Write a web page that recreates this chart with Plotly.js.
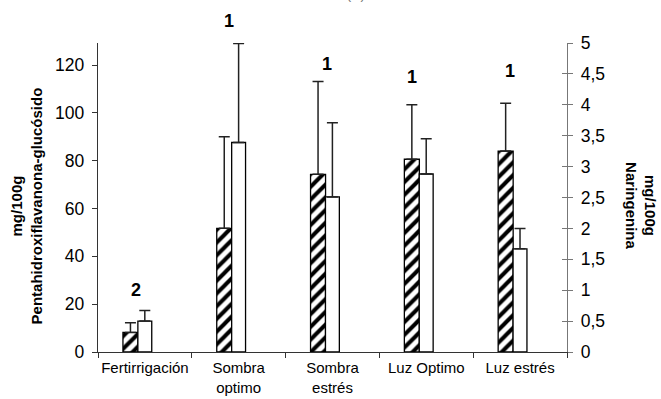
<!DOCTYPE html>
<html>
<head>
<meta charset="utf-8">
<script src="https://cdn.plot.ly/plotly-3.0.1.min.js"></script>
<style>
html,body{margin:0;padding:0;background:#fff;}
#chart{width:661px;height:399px;}
</style>
</head>
<body>
<div id="chart"></div>
<script>
// ---- data ----
const categories = ['Fertirrigación', 'Sombra<br>optimo', 'Sombra<br>estrés', 'Luz Optimo', 'Luz estrés'];
const pentaValues = [8.2, 51.7, 74.3, 80.6, 84.0];      // mg/100g Pentahidroxiflavanona-glucósido (left axis)
const pentaErrors = [4.0, 38.3, 38.8, 22.8, 20.0];
const naringValues = [0.50, 3.39, 2.51, 2.88, 1.67];    // mg/100g Naringenina (right axis)
const naringErrors = [0.17, 1.60, 1.20, 0.57, 0.33];
const sigLabels = ['2', '1', '1', '1', '1'];
const sigHeights = [26, 138.5, 120.5, 115, 117.5];      // in left-axis units
const titleText = 'Fruto (A)';

// ---- styling ----
const FONT = 'Liberation Sans, Arial, sans-serif';
const leftMax = 129.2;
const pxPerUnit = 309 / leftMax;
const labelShift = [-9, -9.5, -5.5, -14, -10.6];
const zeros = pentaValues.map(() => 0);

const traces = [
  {
    type: 'bar', x: categories, y: pentaValues, yaxis: 'y',
    width: 0.16, offset: -0.234,
    marker: {
      color: '#ffffff',
      line: {color: '#000000', width: 1.3},
      pattern: {shape: '/', fgcolor: '#000000', bgcolor: '#ffffff', size: 9, solidity: 0.45}
    },
    error_y: {type: 'data', symmetric: false, array: pentaErrors, arrayminus: zeros,
              color: '#222222', thickness: 1.5, width: 5.5},
    showlegend: false, hoverinfo: 'skip'
  },
  {
    type: 'bar', x: categories, y: naringValues, yaxis: 'y2',
    width: 0.148, offset: -0.075,
    marker: {color: '#ffffff', line: {color: '#000000', width: 1.3}},
    error_y: {type: 'data', symmetric: false, array: naringErrors, arrayminus: zeros,
              color: '#222222', thickness: 1.5, width: 5.5},
    showlegend: false, hoverinfo: 'skip'
  }
];

const annotations = sigLabels.map((t, i) => {
  const yIn = Math.min(sigHeights[i], leftMax);
  return {
    text: t, x: categories[i], y: yIn, xref: 'x', yref: 'y',
    xshift: labelShift[i], yshift: (sigHeights[i] - yIn) * pxPerUnit, showarrow: false,
    font: {family: FONT, size: 18, color: '#000', weight: 'bold'}
  };
});

annotations.push({
  text: '<b>mg/100g</b><br><b>Pentahidroxiflavanona-glucósido</b>',
  xref: 'paper', yref: 'paper', x: -0.153, y: 0.472, xanchor: 'center', yanchor: 'middle',
  textangle: -90, showarrow: false, align: 'center',
  font: {family: FONT, size: 15, color: '#000'}
});
annotations.push({
  text: '<b>mg/100g</b><br><b>Naringenina</b>',
  xref: 'paper', yref: 'paper', x: 1.158, y: 0.475, xanchor: 'center', yanchor: 'middle',
  textangle: 90, showarrow: false, align: 'center',
  font: {family: FONT, size: 15, color: '#000'}
});
// chart title, mostly above the visible page as in the reference
annotations.push({
  text: titleText,
  xref: 'paper', yref: 'paper', x: 0.51, y: 1.158, xanchor: 'center', yanchor: 'middle',
  showarrow: false,
  font: {family: FONT, size: 14, color: '#777'}
});

const layout = {
  width: 661, height: 399,
  margin: {l: 98, r: 94, t: 43, b: 47},
  paper_bgcolor: '#ffffff', plot_bgcolor: '#ffffff',
  separators: ', ',
  font: {family: FONT, color: '#000'},
  barmode: 'group',
  xaxis: {
    type: 'category', range: [-0.5, 4.5], tickangle: 0,
    showline: true, linecolor: '#333', linewidth: 1.2,
    ticks: 'outside', tickson: 'boundaries', ticklen: 5, tickcolor: '#333', ticklabelstandoff: 2,
    tickfont: {size: 15, color: '#000'}, showgrid: false, zeroline: false, fixedrange: true
  },
  yaxis: {
    range: [0, leftMax], dtick: 20, tick0: 0,
    showline: true, linecolor: '#333', linewidth: 1.2,
    ticks: 'outside', ticklen: 5, tickcolor: '#333', ticklabelstandoff: 4,
    tickfont: {size: 17.5, color: '#000'}, showgrid: false, zeroline: false
  },
  yaxis2: {
    range: [0, 5], dtick: 0.5, tick0: 0, overlaying: 'y', side: 'right', anchor: 'x',
    showline: true, linecolor: '#777', linewidth: 1.2,
    ticks: 'outside', ticklen: 5, tickcolor: '#777', ticklabelstandoff: 4,
    tickfont: {size: 17.5, color: '#000'}, showgrid: false, zeroline: false
  },
  yaxis3: {
    range: [0, 5], dtick: 0.5, tick0: 0, overlaying: 'y', side: 'right', anchor: 'x',
    showline: false, ticks: 'inside', ticklen: 5, tickcolor: '#777',
    showticklabels: false, showgrid: false, zeroline: false
  },
  annotations: annotations
};

// invisible trace so that yaxis3 (inner half of the crossing ticks) is drawn
traces.push({type: 'scatter', x: [categories[0]], y: [null], yaxis: 'y3', showlegend: false, hoverinfo: 'skip'});

Plotly.newPlot('chart', traces, layout, {displayModeBar: false, staticPlot: true});
</script>
</body>
</html>
